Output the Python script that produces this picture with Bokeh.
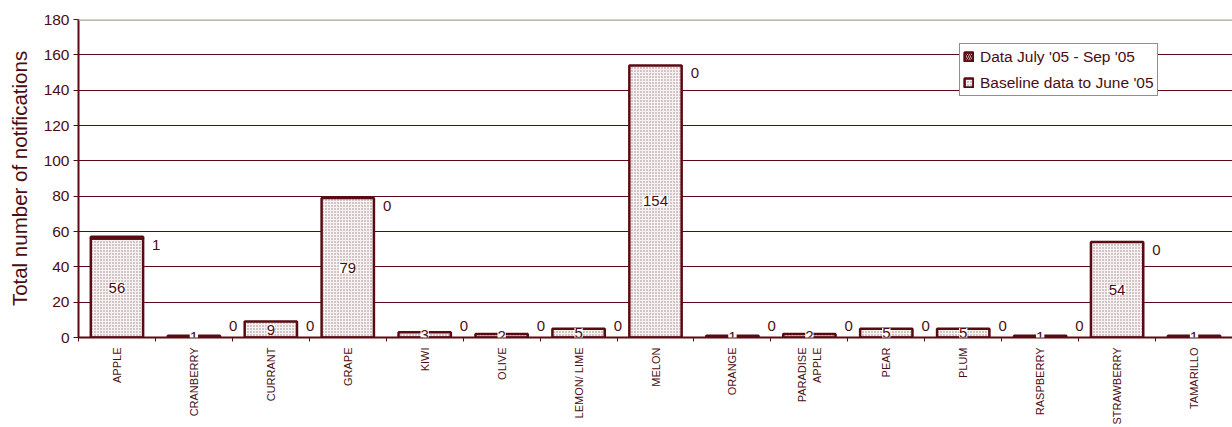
import numpy as np
from bokeh.plotting import figure
from bokeh.models import (ColumnDataSource, Range1d, FixedTicker, LabelSet,
                          Legend, LegendItem, Span)
from bokeh.core.properties import value
from bokeh.embed import file_html
from bokeh.resources import INLINE

# Notification counts per fruit
fruits = ["APPLE", "CRANBERRY", "CURRANT", "GRAPE", "KIWI", "OLIVE", "LEMON/ LIME",
          "MELON", "ORANGE", "PARADISE\nAPPLE", "PEAR", "PLUM", "RASPBERRY",
          "STRAWBERRY", "TAMARILLO"]
baseline = [56, 1, 9, 79, 3, 2, 5, 154, 1, 2, 5, 5, 1, 54, 1]
recent = [1, 0, 0, 0, 0, 0, 0, 0, 0, 0, 0, 0, 0, 0, 0]
y_ticks = [0, 20, 40, 60, 80, 100, 120, 140, 160, 180]

MAROON = "#5a0a12"
TEXT = "#4a0d12"
FONT = "Liberation Sans"
BAR_W = 0.68

n = len(fruits)
centers = np.arange(n) + 0.5
base = np.array(baseline, dtype=float)
rec = np.array(recent, dtype=float)
total = base + rec

src = ColumnDataSource(dict(
    x=centers,
    base=base,
    total=total,
    base_mid=base / 2,
    base_lbl=[str(v) for v in baseline],
    rec_line=[1.0 if v > 0 else 0.0 for v in recent],
))

# labels for the recent series sit right of each bar; the last one falls
# past the right edge of the canvas, so it is left out
vis = slice(0, n - 1)
rec_src = ColumnDataSource(dict(
    x=(centers + BAR_W / 2)[vis],
    y=np.maximum(total, 11)[vis],
    lbl=[str(v) for v in recent][vis],
))

p = figure(width=1232, height=427, output_backend="svg", toolbar_location=None,
           x_range=Range1d(0, n), y_range=Range1d(0, 180),
           min_border_left=78, min_border_right=0, min_border_top=19,
           min_border_bottom=90, background_fill_color="white",
           border_fill_color="white", outline_line_color=None)

base_r = p.vbar(x="x", top="base", bottom=0, width=BAR_W, source=src,
                fill_color="#f8f3f3", line_color=MAROON, line_width=2.5,
                hatch_pattern="dot", hatch_color="#9a7e82", hatch_scale=3,
                hatch_weight=1)
rec_r = p.vbar(x="x", top="total", bottom="base", width=BAR_W, source=src,
               fill_color=MAROON, line_color=MAROON, line_width=2.5,
               line_alpha="rec_line", fill_alpha="rec_line",
               hatch_pattern="/", hatch_color="#c9a5a8", hatch_scale=4,
               hatch_weight=1, hatch_alpha="rec_line")

# y axis
p.yaxis.ticker = FixedTicker(ticks=y_ticks)
p.yaxis.axis_label = "Total number of notifications"
p.yaxis.axis_label_text_font = FONT
p.yaxis.axis_label_text_font_size = "20.5px"
p.yaxis.axis_label_text_font_style = "normal"
p.yaxis.axis_label_text_color = TEXT
p.yaxis.axis_label_standoff = 10
p.yaxis.major_label_text_font = FONT
p.yaxis.major_label_text_font_size = "15.5px"
p.yaxis.major_label_text_color = TEXT
p.yaxis.axis_line_color = MAROON
p.yaxis.axis_line_width = 2
p.yaxis.major_tick_line_color = MAROON
p.yaxis.major_tick_out = 5
p.yaxis.major_tick_in = 0
p.yaxis.minor_tick_line_color = None
p.yaxis.major_label_standoff = 4

# x axis: labels at category centres, ticks at category boundaries
p.xaxis.ticker = FixedTicker(ticks=list(centers), minor_ticks=list(range(n + 1)))
p.xaxis.major_label_overrides = {float(c): f for c, f in zip(centers, fruits)}
p.xaxis.major_label_orientation = np.pi / 2
p.xaxis.major_label_text_font = FONT
p.xaxis.major_label_text_font_size = "11px"
p.xaxis.major_label_text_color = TEXT
p.xaxis.major_label_standoff = 4
p.xaxis.major_tick_line_color = None
p.xaxis.minor_tick_line_color = MAROON
p.xaxis.minor_tick_out = 4
p.xaxis.minor_tick_in = 0
p.xaxis.axis_line_color = MAROON
p.xaxis.axis_line_width = 2

p.xgrid.grid_line_color = None
p.ygrid.grid_line_color = MAROON
p.ygrid.grid_line_width = 1

p.add_layout(Span(location=180, dimension="width", line_color="#a8a48c",
                  line_width=2.5))

# value labels
p.add_layout(LabelSet(x="x", y="base_mid", text="base_lbl", source=src,
                      text_align="center", text_baseline="middle",
                      text_font=value(FONT), text_font_size="15px",
                      text_color=TEXT, background_fill_color="white"))
p.add_layout(LabelSet(x="x", y="y", text="lbl", source=rec_src,
                      x_offset=9, y_offset=-8,
                      text_align="left", text_baseline="middle",
                      text_font=value(FONT), text_font_size="15px",
                      text_color=TEXT, background_fill_color="white"))

legend = Legend(items=[
    LegendItem(label="Data July '05 - Sep '05", renderers=[rec_r], index=0),
    LegendItem(label="Baseline data to June '05", renderers=[base_r]),
], location=(881, 241))
legend.label_text_font = FONT
legend.label_text_font_size = "15.5px"
legend.label_text_color = TEXT
legend.glyph_width = 11
legend.glyph_height = 11
legend.label_standoff = 6
legend.label_height = 19
legend.spacing = 7
legend.padding = 3
legend.margin = 0
legend.border_line_color = MAROON
legend.border_line_width = 1
legend.background_fill_color = "white"
legend.background_fill_alpha = 1
p.add_layout(legend, "center")

open("out.html", "w").write(file_html(p, INLINE))
